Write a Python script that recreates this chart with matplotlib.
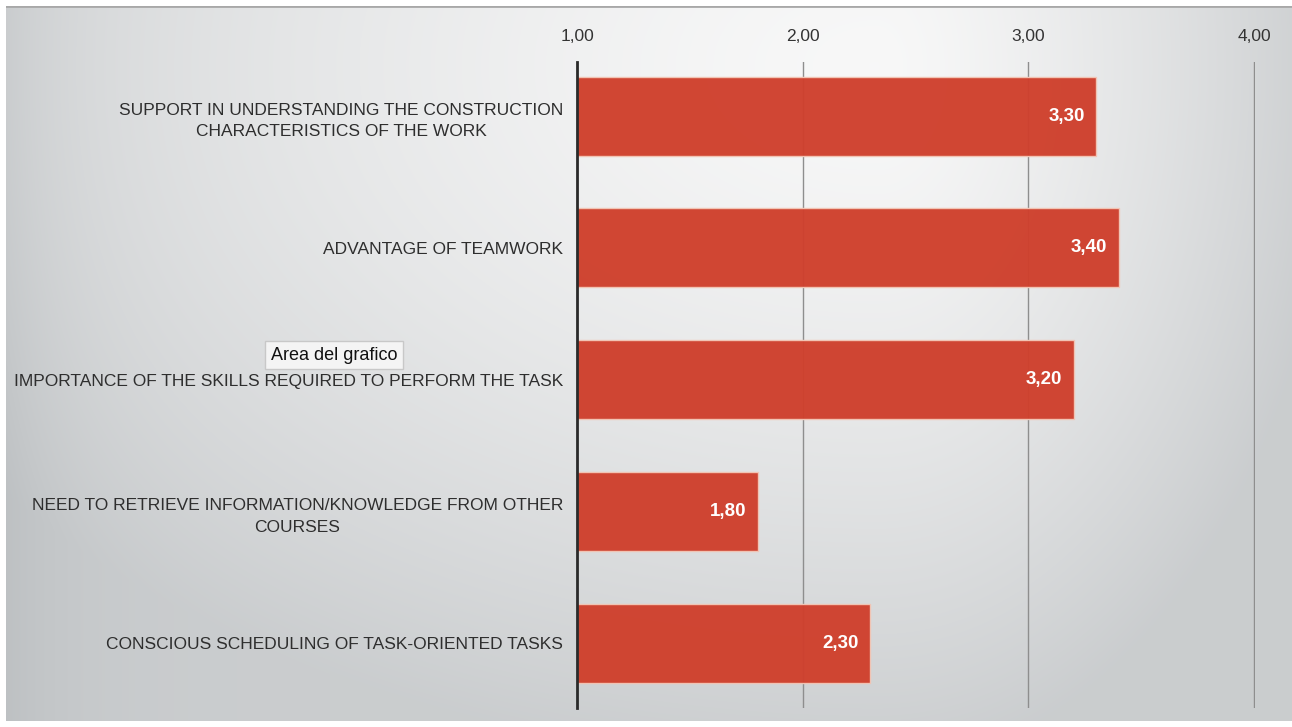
import numpy as np
import matplotlib
matplotlib.use("Agg")
from matplotlib import pyplot as plt
from matplotlib import font_manager

# dati del grafico
etichette = [
    "SUPPORT IN UNDERSTANDING THE CONSTRUCTION\nCHARACTERISTICS OF THE WORK",
    "ADVANTAGE OF TEAMWORK",
    "IMPORTANCE OF THE SKILLS REQUIRED TO PERFORM THE TASK",
    "NEED TO RETRIEVE INFORMATION/KNOWLEDGE FROM OTHER\nCOURSES",
    "CONSCIOUS SCHEDULING OF TASK-ORIENTED TASKS",
]
valori = [3.30, 3.40, 3.20, 1.80, 2.30]
tick_x = [1, 2, 3, 4]
tick_lab = ["1,00", "2,00", "3,00", "4,00"]

# font stretto se c'e', altrimenti normale piu piccolo
nomi = {f.name for f in font_manager.fontManager.ttflist}
if "Liberation Sans Narrow" in nomi:
    stretto, fs = "Liberation Sans Narrow", 15
else:
    stretto, fs = "Liberation Sans", 12.5
plt.rcParams['font.family'] = [stretto, 'DejaVu Sans']

W, H = 1292, 727
fig = plt.figure(figsize=(W / 100, H / 100), dpi=100)
fig.patch.set_facecolor("white")

# sfondo sfumato (radiale, chiaro in alto al centro)
bg = fig.add_axes([6 / W, 6 / H, 1 - 6 / W, 1 - 12 / H])
yy, xx = np.mgrid[0:715, 0:1286]
cx, cy = 870, 60
rx = np.where(xx < cx, 1100.0, 460.0)
d = np.sqrt(((xx - cx) / rx) ** 2 + ((yy - cy) / 700.0) ** 2)
d = np.clip(d, 0, 1)
b = 248 - 42 * d ** 1.4 - 12 * np.exp(-xx / 70.0)
img = np.dstack([b - 0.08 * (250 - b), b - 0.02 * (250 - b), b + 0.02 * (250 - b)]) / 255
bg.imshow(np.clip(img, 0, 1), aspect="auto", extent=[0, 1, 0, 1], origin="upper")
bg.axhline(1, color="#a8a8a8", lw=2)
bg.set_xlim(0, 1)
bg.set_ylim(0, 1)
bg.axis("off")

ax = fig.add_axes([577 / W, 1 - 708 / H, (1255 - 577) / W, (708 - 62) / H])
ax.patch.set_alpha(0)
pos = np.arange(len(valori))
ax.barh(pos, [v - 1 for v in valori], left=1, height=0.6, color="#cf402d",
        edgecolor="#f2c6b6", linewidth=1, alpha=0.97, zorder=2)

for p, v in zip(pos, valori):
    ax.text(v - 0.05, p, f"{v:.2f}".replace(".", ","), ha="right", va="center",
            color="white", fontsize=fs + 1, fontweight="bold", zorder=3)

ax.set_xlim(1, 4.004)
ax.set_ylim(4.49, -0.41)
ax.set_xticks(tick_x)
ax.set_xticklabels(tick_lab, fontsize=fs, color="#333333")
ax.xaxis.tick_top()
ax.tick_params(axis="x", length=0, pad=13)
ax.set_yticks(pos)
ax.set_yticklabels(etichette, fontsize=fs, color="#2e2e2e", multialignment="center",
                   linespacing=1.55)
ax.tick_params(axis="y", length=0, pad=10)

for x in tick_x[1:]:
    ax.axvline(x, color="#8e8e8e", lw=1, zorder=1)
for s in ["top", "right", "bottom"]:
    ax.spines[s].set_visible(False)
ax.spines["left"].set_color("#2a2a2a")
ax.spines["left"].set_linewidth(2)

# etichetta del tooltip
fig.text(334 / W, 1 - 355 / H, "Area del grafico", ha="center", va="center",
         fontsize=13, color="#111111", family="Liberation Sans",
         bbox=dict(boxstyle="square,pad=0.3", fc="#f4f4f4", ec="#c8c8c8", lw=1))

fig.savefig("out.png", dpi=100)
